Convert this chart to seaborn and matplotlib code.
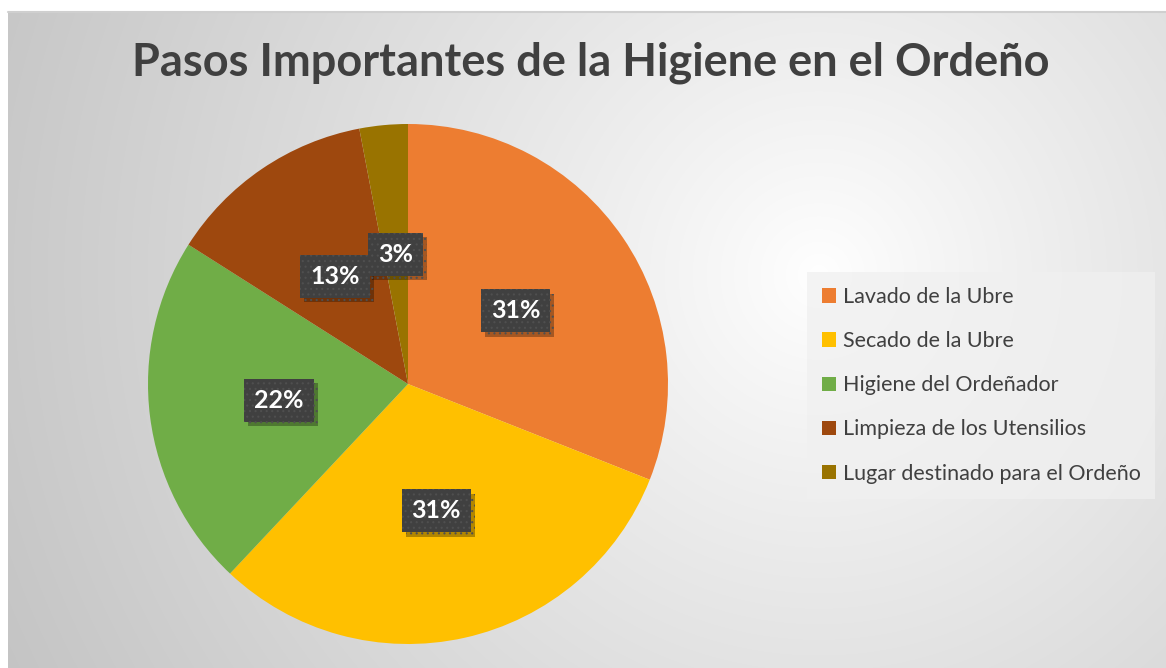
import numpy as np
import matplotlib
matplotlib.use("Agg")
import matplotlib.pyplot as plt
import matplotlib.patheffects as pe
from matplotlib.patches import Patch
import seaborn as sns

categories = ["Lavado de la Ubre", "Secado de la Ubre", "Higiene del Ordeñador",
              "Limpieza de los Utensilios", "Lugar destinado para el Ordeño"]
values = [31, 31, 22, 13, 3]
colors = ["#ED7D31", "#FFC000", "#70AD47", "#9E480E", "#997300"]
title = "Pasos Importantes de la Higiene en el Ordeño"

sns.set_theme(style="white")
plt.rcParams['font.family'] = ['Lato', 'DejaVu Sans']
plt.rcParams['hatch.linewidth'] = 0.8

W, H = 1166, 668
fig = plt.figure(figsize=(W / 100, H / 100), dpi=100, facecolor="white")

# background chart area with radial gradient
bx0, by0 = 8, 12
bg = fig.add_axes([bx0 / W, 0, (W - bx0) / W, (H - by0) / H], zorder=0)
gw, gh = W - bx0, H - by0
yy, xx = np.mgrid[0:gh, 0:gw]
cx, cy = 0.70 * gw, 0.40 * gh
d = np.sqrt((xx - cx) ** 2 + (yy - cy) ** 2)
t = np.clip(d / np.sqrt(cx ** 2 + (gh - cy) ** 2), 0, 1) ** 0.9
c0, c1 = 1.0, 0.77
img = c0 * (1 - t) + c1 * t
bg.imshow(np.dstack([img, img, img]), aspect="auto", extent=[0, 1, 0, 1], origin="upper")
bg.set_xlim(0, 1); bg.set_ylim(0, 1)
bg.axis("off")
bg.plot([0, 1], [1, 1], color="#cfcfcf", lw=1.5, transform=bg.transAxes, clip_on=False)

# pie
cxp, cyp, r = 408, 384, 260
ax = fig.add_axes([(cxp - r) / W, (H - cyp - r) / H, 2 * r / W, 2 * r / H], zorder=2)
wedges, texts, autotexts = ax.pie(values, colors=colors, startangle=90, counterclock=False,
                                  autopct="%1.0f%%", pctdistance=0.5,
                                  wedgeprops=dict(linewidth=0),
                                  textprops=dict(color="white", fontsize=18, fontweight="bold"))
ax.set_xlim(-1, 1); ax.set_ylim(-1, 1)
ax.set_aspect("auto")
ax.axis("off")
for at in autotexts:
    at.set_bbox(dict(boxstyle="square,pad=0.4", facecolor="#404040", edgecolor="#4f4f4f",
                     hatch="...", linewidth=0))
    at.get_bbox_patch().set_path_effects([
        pe.SimplePatchShadow(offset=(3, -3), shadow_rgbFace="black", alpha=0.3),
        pe.Normal()])

# title
fig.text(591 / W, 1 - 63 / H, title, ha="center", va="center", fontsize=32.5,
         fontweight="bold", color="#404040")

# legend
handles = [Patch(facecolor=c, edgecolor="none") for c in colors]
leg = fig.legend(handles, categories, loc="upper left",
                 bbox_to_anchor=(807 / W, 1 - 272 / H), frameon=True, fancybox=False,
                 fontsize=15.5, labelcolor="#404040", handlelength=0.65, handleheight=0.65,
                 handletextpad=0.3, labelspacing=1.12, borderpad=0.7, borderaxespad=0)
fr = leg.get_frame()
fr.set_facecolor("#f0f0f0"); fr.set_alpha(0.75); fr.set_linewidth(0)

fig.savefig("out.png", dpi=100, facecolor="white")
